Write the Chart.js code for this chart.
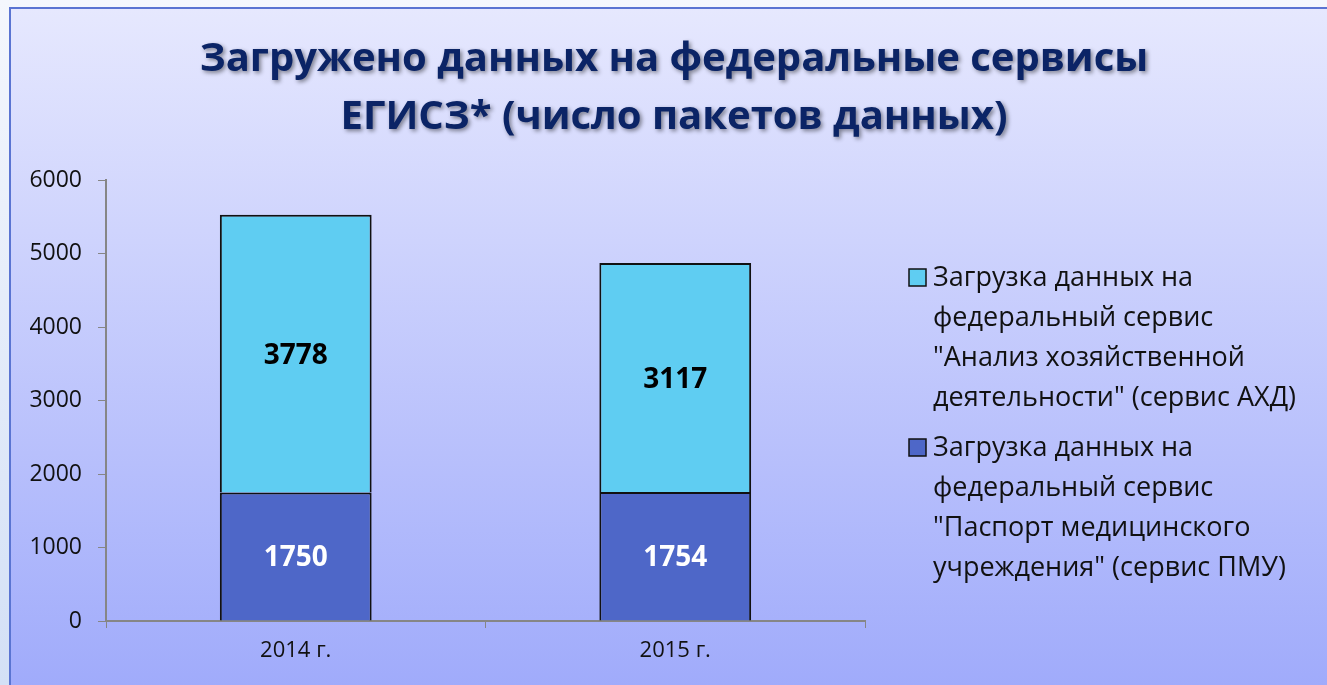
<!DOCTYPE html>
<html>
<head>
<meta charset="utf-8">
<script src="https://cdn.jsdelivr.net/npm/chart.js@4.4.0/dist/chart.umd.min.js"></script>
<style>
html, body { margin: 0; padding: 0; width: 1327px; height: 685px; overflow: hidden; background: linear-gradient(#f4f7fd, #d3e0f6); }
#box { position: absolute; left: 9px; top: 7px; width: 1316px; height: 676px; border-left: 2px solid #5a74d2; border-top: 2px solid #5a74d2; background: linear-gradient(#e6e8fe, #a0abfb); }
#wrap { position: absolute; left: 0; top: 0; width: 1316px; height: 676px; }
</style>
</head>
<body>
<div id="box"><div id="wrap"><canvas id="myChart"></canvas></div></div>
<script>
// chart data
const titleLines = ['Загружено данных на федеральные сервисы', 'ЕГИСЗ* (число пакетов данных)'];
const years = ['2014 г.', '2015 г.'];
const pmuValues = [1750, 1754];
const ahdValues = [3778, 3117];
const pmuName = ['Загрузка данных на', 'федеральный сервис', '"Паспорт медицинского', 'учреждения" (сервис ПМУ)'];
const ahdName = ['Загрузка данных на', 'федеральный сервис', '"Анализ хозяйственной', 'деятельности" (сервис АХД)'];
const yTicks = [0, 1000, 2000, 3000, 4000, 5000, 6000];

const FONT = '"Open Sans", "Noto Sans", sans-serif';

// title with a soft shadow
const titlePlugin = {
    id: 'shadowTitle',
    afterDraw(chart) {
        const ctx = chart.ctx;
        ctx.save();
        ctx.font = 'bold 40px ' + FONT;
        ctx.textAlign = 'center';
        ctx.textBaseline = 'middle';
        ctx.fillStyle = '#0b2466';
        ctx.shadowColor = 'rgba(0,0,0,0.45)';
        ctx.shadowBlur = 4;
        ctx.shadowOffsetX = 2;
        ctx.shadowOffsetY = 2;
        titleLines.forEach((t, i) => ctx.fillText(t, 663, 51 + i * 58));
        ctx.restore();
    }
};

// values inside the bar segments
const valueLabels = {
    id: 'valueLabels',
    afterDatasetsDraw(chart) {
        const ctx = chart.ctx;
        ctx.save();
        ctx.font = 'bold 28px ' + FONT;
        ctx.textAlign = 'center';
        ctx.textBaseline = 'middle';
        chart.data.datasets.forEach((ds, i) => {
            chart.getDatasetMeta(i).data.forEach((bar, j) => {
                const p = bar.getProps(['x', 'y', 'base'], true);
                ctx.fillStyle = ds.labelColor;
                ctx.fillText(ds.data[j], p.x, (p.y + p.base) / 2 + 2);
            });
        });
        ctx.restore();
    }
};

// legend with wrapped labels, top series first
const wrapLegend = {
    id: 'wrapLegend',
    afterDraw(chart) {
        const ctx = chart.ctx;
        const area = chart.chartArea;
        let y = area.top + 98;
        ctx.save();
        ctx.font = '27px ' + FONT;
        ctx.textBaseline = 'middle';
        ctx.textAlign = 'left';
        chart.data.datasets.slice().reverse().forEach(ds => {
            ctx.fillStyle = ds.backgroundColor;
            ctx.fillRect(area.right + 44, y - 9, 17, 17);
            ctx.lineWidth = 1.5;
            ctx.strokeStyle = '#111';
            ctx.strokeRect(area.right + 44, y - 9, 17, 17);
            ctx.fillStyle = '#111';
            ds.nameLines.forEach((line, k) => ctx.fillText(line, area.right + 68, y + k * 40));
            y += ds.nameLines.length * 40 + 10;
        });
        ctx.restore();
    }
};

let ctx = document.getElementById('myChart').getContext('2d');
let chart = new Chart(ctx, {
    type: 'bar',
    data: {
        labels: years,
        datasets: [{
            label: pmuName.join(' '),
            nameLines: pmuName,
            data: pmuValues,
            backgroundColor: '#4e67c8',
            borderColor: '#111',
            borderWidth: 2,
            labelColor: '#ffffff'
        }, {
            label: ahdName.join(' '),
            nameLines: ahdName,
            data: ahdValues,
            backgroundColor: '#5fcdf2',
            borderColor: '#111',
            borderWidth: 2,
            labelColor: '#000000'
        }]
    },
    options: {
        responsive: true,
        maintainAspectRatio: false,
        animation: false,
        categoryPercentage: 0.8,
        barPercentage: 0.5,
        layout: { padding: { top: 171, right: 462, left: 0, bottom: 0 } },
        plugins: {
            legend: { display: false },
            title: { display: false },
            tooltip: { enabled: false }
        },
        scales: {
            x: {
                stacked: true,
                grid: { drawOnChartArea: false, color: '#868686', tickLength: 7, offset: true },
                border: { color: '#868686', width: 2 },
                ticks: { color: '#111', font: { family: FONT, size: 22 }, padding: 10 },
                afterFit(s) { s.height = 64; }
            },
            y: {
                stacked: true,
                min: 0,
                max: 6000,
                afterBuildTicks(s) { s.ticks = yTicks.map(v => ({ value: v })); },
                grid: { drawOnChartArea: false, color: '#868686', tickLength: 8 },
                border: { color: '#868686', width: 2 },
                ticks: { color: '#111', font: { family: FONT, size: 23 }, padding: 16, callback: v => String(v) },
                afterFit(s) { s.width = 95; }
            }
        }
    },
    plugins: [titlePlugin, valueLabels, wrapLegend]
});
</script>
</body>
</html>
